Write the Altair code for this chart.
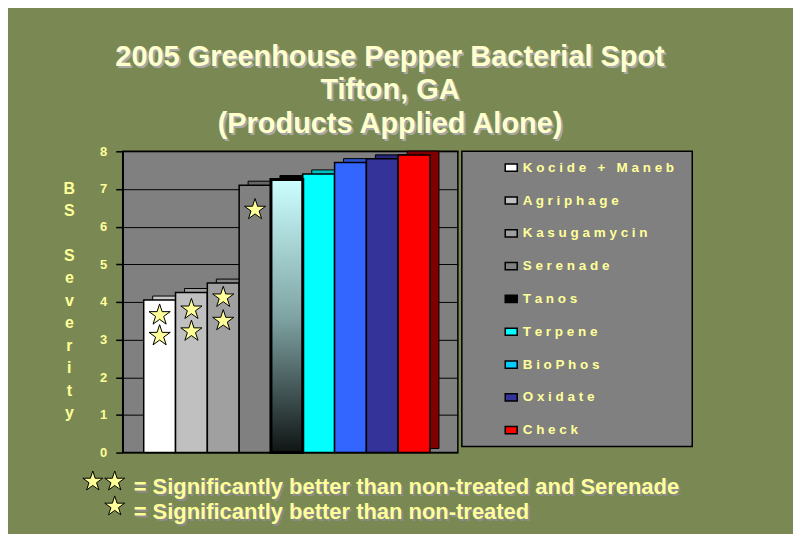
import altair as alt
import pandas as pd

# ---------------- data ----------------
products = ["Kocide + Maneb", "Agriphage", "Kasugamycin", "Serenade", "Tanos",
            "Terpene", "BioPhos", "Oxidate", "Check"]
severity = [4.05, 4.25, 4.5, 7.1, 7.25, 7.4, 7.7, 7.8, 7.9]
front_colors = ["#FFFFFF", "#C0C0C0", "#A0A0A0", "#808080", "#000000",
                "#00FFFF", "#3366FF", "#333399", "#FF0000"]
depth_colors = ["#C8C8C8", "#A0A0A0", "#858585", "#666666", "#000000",
                "#00BFBF", "#2A52CC", "#26267A", "#800000"]
legend_colors = ["#FFFFFF", "#C0C0C0", "#A0A0A0", "#808080", "#000000",
                 "#00FFFF", "#00CCFF", "#333399", "#FF0000"]

star_products = ["Kocide + Maneb", "Kocide + Maneb", "Agriphage", "Agriphage",
                 "Kasugamycin", "Kasugamycin", "Serenade"]
star_values = [3.65, 3.1, 3.8, 3.22, 4.12, 3.5, 6.45]

y_ticks = [0, 1, 2, 3, 4, 5, 6, 7, 8]
axis_title_letters = ["B", "S", "\u200b", "S", "e", "v", "e", "r", "i", "t", "y"]
title_lines = ["2005 Greenhouse Pepper Bacterial Spot", "Tifton, GA",
               "(Products Applied Alone)"]
footnotes = ["= Significantly better than non-treated and Serenade",
             "= Significantly better than non-treated"]
footnote_star_line = [0, 0, 1]
footnote_star_slot = [0, 1, 1]

# legend labels are drawn letter-spaced, as on the slide
legend_labels = [" ".join("\u00a0" if ch == " " else ch for ch in p) for p in products]

# ---------------- style ----------------
GREEN = "#7A8953"
YELLOW = "#FFFF99"
CREAM = "#FFFFCC"
WALL = "#808080"
FONT = "Liberation Sans"
STAR = ("M0,-1L0.2245,-0.309L0.951,-0.309L0.363,0.118L0.588,0.809L0,0.382"
        "L-0.588,0.809L-0.363,0.118L-0.951,-0.309L-0.2245,-0.309Z")
RECT = "M-1,-0.6L1,-0.6L1,0.6L-1,0.6Z"

bars_df = pd.DataFrame({"product": products, "severity": severity,
                        "front": front_colors, "depth": depth_colors})
stars_df = pd.DataFrame({"product": star_products, "severity": star_values})
leg_df = pd.DataFrame({"product": products, "label": legend_labels,
                       "swatch": legend_colors})
title_df = pd.DataFrame({"line": [0, 1, 2], "text": title_lines})
foot_df = pd.DataFrame({"line": [0, 1], "text": footnotes})
fstar_df = pd.DataFrame({"line": footnote_star_line, "slot": footnote_star_slot})

# ---------------- bars ----------------
x_enc = alt.X("product:N", sort=products, axis=None,
              scale=alt.Scale(domain=products, paddingInner=0,
                              paddingOuter=0.768, align=0.43))
y_axis = alt.Axis(values=y_ticks, format="d", grid=True, gridColor="black",
                  gridWidth=1, gridOpacity=1, domainColor="black", domainWidth=1.5,
                  tickColor="black", tickSize=7, tickWidth=1.5,
                  labelColor=YELLOW, labelFont=FONT, labelFontSize=13,
                  labelFontWeight="bold", labelPadding=9, labelFlush=False,
                  title=axis_title_letters, titleAngle=0, titleColor=YELLOW,
                  titleFont=FONT, titleFontSize=16, titleFontWeight="bold",
                  titleX=-54, titleY=29, titleAlign="center",
                  titleBaseline="top", titleLineHeight=22.5)
y_enc = alt.Y("severity:Q", scale=alt.Scale(domain=[0, 8], nice=False),
              axis=y_axis)

depth = alt.Chart(bars_df).mark_bar(
    xOffset=9, x2Offset=9, yOffset=-4, y2Offset=-4,
    stroke="black", strokeWidth=1
).encode(x=x_enc, y=y_enc, fill=alt.Fill("depth:N", scale=None))

front = alt.Chart(bars_df).transform_filter(
    "datum.product != 'Tanos'"
).mark_bar(stroke="black", strokeWidth=1.5).encode(
    x=x_enc, y=y_enc, fill=alt.Fill("front:N", scale=None))

tanos = alt.Chart(bars_df).transform_filter(
    "datum.product == 'Tanos'"
).mark_bar(
    fill={"gradient": "linear", "x1": 0, "y1": 0, "x2": 0, "y2": 1,
          "stops": [{"offset": 0, "color": "#CCFFFF"},
                    {"offset": 0.5, "color": "#80A4A4"},
                    {"offset": 1, "color": "#101414"}]},
    stroke="black", strokeWidth=3
).encode(x=x_enc, y=y_enc)

stars = alt.Chart(stars_df).mark_point(
    shape=STAR, filled=True, fill=YELLOW, stroke="black", strokeWidth=1,
    opacity=1, fillOpacity=1, size=500
).encode(x=x_enc, y=y_enc)

bar_layers = alt.layer(depth, front, tanos, stars)

# ---------------- title (above the plot) ----------------
title_y = alt.Y("line:O", axis=None,
                scale=alt.Scale(range=[-86, -18], padding=0))
t_shadow = alt.Chart(title_df).mark_text(
    align="center", baseline="alphabetic", font=FONT, fontSize=29,
    fontWeight="bold", color="#A8A8A8", dx=2, dy=2
).encode(x=alt.value(268), y=title_y, text="text:N")
t_main = alt.Chart(title_df).mark_text(
    align="center", baseline="alphabetic", font=FONT, fontSize=29,
    fontWeight="bold", color=CREAM
).encode(x=alt.value(268), y=title_y, text="text:N")
title_layers = alt.layer(t_shadow, t_main)

# ---------------- footnotes (below the plot) ----------------
foot_y = alt.Y("line:O", axis=None,
               scale=alt.Scale(range=[331, 356], padding=0))
f_shadow = alt.Chart(foot_df).mark_text(
    align="left", baseline="alphabetic", font=FONT, fontSize=22,
    fontWeight="bold", color="#8C8C8C", dx=2, dy=15
).encode(x=alt.value(11), y=foot_y, text="text:N")
f_main = alt.Chart(foot_df).mark_text(
    align="left", baseline="alphabetic", font=FONT, fontSize=22,
    fontWeight="bold", color=YELLOW, dy=13
).encode(x=alt.value(11), y=foot_y, text="text:N")
f_stars = alt.Chart(fstar_df).mark_point(
    shape=STAR, filled=True, fill=YELLOW, stroke="black", strokeWidth=1,
    opacity=1, fillOpacity=1, size=440
).encode(x=alt.X("slot:O", axis=None,
                 scale=alt.Scale(range=[-30, -8], padding=0)),
         y=foot_y)
foot_layers = alt.layer(f_shadow, f_main, f_stars)

main_panel = alt.layer(bar_layers, title_layers, foot_layers).resolve_scale(
    x="independent", y="independent"
).properties(
    width=336, height=302,
    view=alt.ViewBackground(fill=WALL, stroke="black", strokeWidth=1.5))

# ---------------- legend panel ----------------
leg_y = alt.Y("product:N", sort=products, axis=None,
              scale=alt.Scale(domain=products))
swatches = alt.Chart(leg_df).mark_point(
    shape=RECT, filled=True, size=144, stroke="black", strokeWidth=1.5,
    opacity=1, fillOpacity=1
).encode(x=alt.value(49.5), y=leg_y, fill=alt.Fill("swatch:N", scale=None))
labels = alt.Chart(leg_df).mark_text(
    align="left", baseline="middle", font=FONT, fontSize=13.5,
    fontWeight="bold", color=YELLOW
).encode(x=alt.value(61), y=leg_y, text="label:N")
legend_panel = alt.layer(swatches, labels).properties(
    width=231, height=296,
    view=alt.ViewBackground(fill=WALL, stroke="black", strokeWidth=1.5))

# ---------------- assemble ----------------
chart = alt.hconcat(
    main_panel, legend_panel, spacing=4, bounds="flush"
).properties(
    background=GREEN,
    padding={"left": 54, "top": 33, "right": 100, "bottom": 7}
).configure_view(stroke="transparent")

chart.save("out.html", embed_options={"renderer": "svg", "actions": False})
